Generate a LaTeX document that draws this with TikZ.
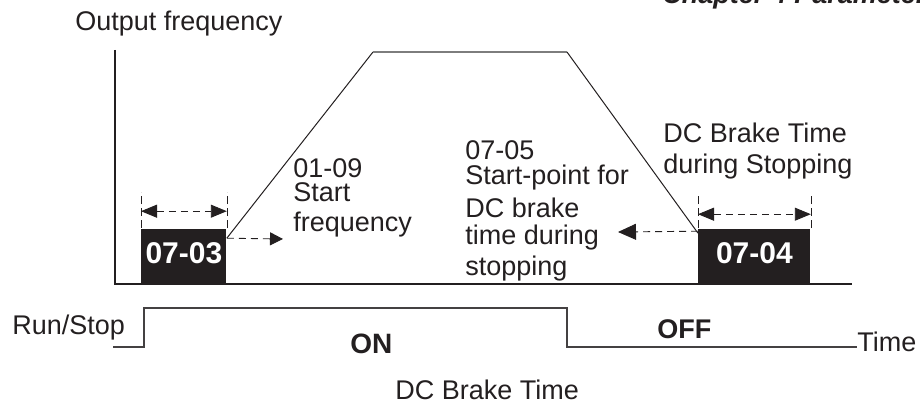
\documentclass[tikz,border=0pt]{standalone}
\usepackage{fontspec}
\setmainfont{Liberation Sans}
\usetikzlibrary{arrows.meta,calc}
\definecolor{ink}{RGB}{35,31,32}
\definecolor{topgray}{RGB}{125,125,125}

\begin{document}
\begin{tikzpicture}[x=0.5pt, y=-0.5pt, >={Triangle[length=8pt,width=6.5pt]},
		lbl/.style={font=\fontsize{13.5}{12.5}\selectfont, text=ink, inner sep=0pt},
		lblblock/.style={lbl, align=left},
		parbox/.style={fill=ink, text=white, inner sep=0pt, minimum height=27pt,
			font=\fontsize{15}{15}\selectfont\bfseries, text height=10.7pt, text depth=3pt},
		dimline/.style={ink, line width=0.45pt, dash pattern=on 3.5pt off 2.5pt},
		edgetick/.style={ink, line width=0.3pt, dash pattern=on 4pt off 2pt}]
		\path[use as bounding box] (0,0) rectangle (920,405);
		\clip (0,0) rectangle (920,405);
		% ---- header and axis ----
		\node[lbl, font=\fontsize{13.5}{13.5}\selectfont\bfseries\itshape, anchor=base west] (chaphdr) at (662,4) {Chapter 4 Parameters};
		\node[lbl, anchor=base west] (outfreq) at (75,31) {Output frequency};
		\node[parbox, minimum width=42.5pt, anchor=south west] (p0703) at (141,283) {07-03};
		\node[parbox, minimum width=56pt, anchor=south west] (p0704) at (698,283) {07-04};
		\draw[ink, line width=1.1pt] (115,50) -- (115,284) -- (852,284);
		% ---- frequency curve ----
		\coordinate (rampstart) at ($(p0703.north east)+(0,10)$);
		\coordinate (rampend) at ($(p0704.north west)+(0,5)$);
		\draw[ink, line width=0.5pt] (rampstart) -- (373,52);
		\draw[topgray, line width=0.9pt] (373,52) -- (567,52);
		\draw[ink, line width=0.5pt] (567,52) -- (rampend);
		% ---- dimension marks above the boxes ----
		\draw[edgetick] (p0703.north west) -- ++(0,-36);
		\draw[edgetick] (p0703.north east) -- ++(0,-36);
		\draw[dimline, <->] ($(p0703.north west)+(0,-17)$) -- ($(p0703.north east)+(0,-17)$);
		\draw[edgetick] (p0704.north west) -- ++(0,-32);
		\draw[edgetick] (p0704.north east) -- ++(0,-32);
		\draw[dimline, <->] ($(p0704.north west)+(0,-14)$) -- ($(p0704.north east)+(0,-14)$);
		% ---- labels on the curve ----
		\node[lblblock, font=\fontsize{13.5}{12}\selectfont, anchor=north west] (startfreq) at (293,158) {01-09\\Start\\[3pt]frequency};
		\node[lblblock, anchor=north west] (brakestart) at (465,140) {07-05\\Start-point for\\[3pt]DC brake\\[1pt]time during\\[2pt]stopping};
		\node[lblblock, anchor=north west] (braketime) at (663,123) {DC Brake Time\\[3pt]during Stopping};
		\coordinate (sftip) at (283,239);
		\coordinate (bstip) at (618,232);
		\draw[dimline, -{Triangle[length=6.5pt,width=6.5pt]}] (rampstart) -- (sftip);
		\draw[dimline, -{Triangle[length=9pt,width=8pt]}] ($(p0704.north west)+(0,3)$) -- (bstip);
		% ---- run/stop signal ----
		\node[lbl, anchor=base west] (runstop) at (12,335) {Run/Stop};
		\node[lbl, anchor=base west] (tm) at (857,351) {Time};
		\node[lbl, font=\fontsize{14}{14}\selectfont\bfseries, anchor=base west] (onlbl) at (350,354) {ON};
		\node[lbl, font=\fontsize{13.5}{13.5}\selectfont\bfseries, anchor=base west] (offlbl) at (657,339) {OFF};
		\node[lbl, anchor=base west] (dcbrake) at (395,400) {DC Brake Time};
		\draw[ink!85, line width=0.6pt] (113,347) -- (144,347) -- (144,308) -- (567,308) -- (567,347) -- ([yshift=2pt]tm.base west);
	\end{tikzpicture}
\end{document}
